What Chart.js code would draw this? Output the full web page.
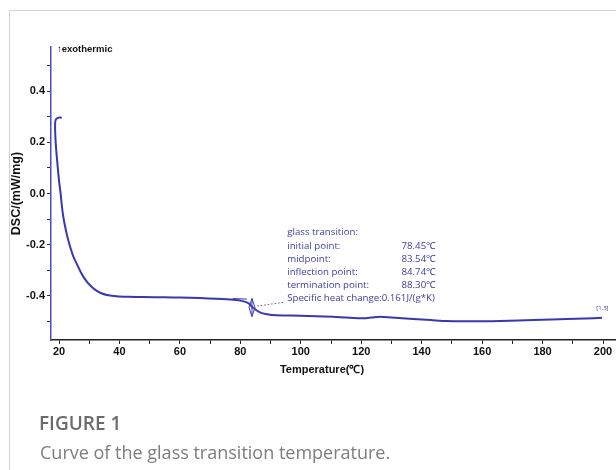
<!DOCTYPE html>
<html>
<head>
<meta charset="utf-8">
<script src="https://cdn.jsdelivr.net/npm/chart.js@4.4.0/dist/chart.umd.min.js"></script>
<style>
  html, body { margin: 0; padding: 0; background: #fff; }
  #page { position: relative; width: 616px; height: 470px; overflow: hidden; }
  .card { position: absolute; left: 9px; top: 10px; width: 620px; height: 470px;
          border-left: 1px solid #d2d2d2; border-top: 1px solid #d2d2d2; }
  #wrap { position: absolute; left: 0; top: 0; width: 616px; height: 470px; }
  .fig-num { position: absolute; left: 39px; top: 414px; font: 600 19px/1 "Open Sans"; color: #6b6b6b; white-space: nowrap; }
  .fig-cap { position: absolute; left: 40px; top: 443px; font: 18px/1 "Open Sans"; color: #7d7d7d; white-space: nowrap; }
</style>
</head>
<body>
<div id="page">
  <div class="card"></div>
  <div id="wrap"><canvas id="dscChart" width="616" height="470"></canvas></div>
  <div class="fig-num">FIGURE 1</div>
  <div class="fig-cap">Curve of the glass transition temperature.</div>
</div>
<script>
// DSC heating curve (temperature in °C, heat flow in mW/mg)
const tempC = [20.9, 20.2, 19.5, 19.0, 18.75, 18.7, 18.75, 18.9, 19.2, 19.6, 20.0, 20.5, 20.9, 21.4,
  22.1, 22.9, 23.8, 24.8, 26.0, 27.3, 28.7, 30.2, 31.9, 34.0, 36.3, 39.0, 42.9, 48, 55, 60, 66.7,
  72, 77.6, 80.5, 82.5, 84.2, 86.5, 88.8, 92, 99.8, 105, 110.7, 115, 120.7, 123.5, 126.3, 130,
  137.2, 143, 148.4, 155, 160, 166, 172, 177, 183, 188, 194, 199.7];
const dscVal = [0.296, 0.297, 0.295, 0.29, 0.28, 0.26, 0.235, 0.2, 0.153, 0.1, 0.05, 0.003, -0.043, -0.09,
  -0.134, -0.175, -0.213, -0.248, -0.278, -0.31, -0.337, -0.358, -0.376, -0.39, -0.398, -0.402, -0.404, -0.405, -0.406, -0.407, -0.409,
  -0.412, -0.416, -0.42, -0.428, -0.447, -0.465, -0.472, -0.476, -0.478, -0.48, -0.482, -0.485, -0.488, -0.485, -0.482, -0.485,
  -0.491, -0.495, -0.499, -0.5, -0.5, -0.499, -0.497, -0.495, -0.493, -0.491, -0.489, -0.486];

// glass transition evaluation
const tgNames = ['initial point:', 'midpoint:', 'inflection point:', 'termination point:'];
const tgTemps = [78.45, 83.54, 84.74, 88.30];
const cpChange = 0.161;

const xLabelStep = 20;   // labelled every 20 °C, minor ticks every 10
const yLabelStep = 0.2;  // labelled every 0.2, minor ticks every 0.1

const lineBlue = '#3838b0';
const textBlue = '#3d3da6';

const tgAnnotations = {
  id: 'tgAnnotations',
  afterDatasetsDraw(chart) {
    const { ctx, scales: { x, y }, chartArea } = chart;
    ctx.save();

    // baseline tangent before the step
    ctx.strokeStyle = lineBlue;
    ctx.lineWidth = 1;
    ctx.beginPath();
    ctx.moveTo(x.getPixelForValue(77.5), y.getPixelForValue(-0.411));
    ctx.lineTo(x.getPixelForValue(82.2), y.getPixelForValue(-0.413));
    ctx.stroke();

    // midpoint marker
    const mx = x.getPixelForValue(tgTemps[1] + 0.3);
    const my = y.getPixelForValue(-0.446);
    ctx.beginPath();
    ctx.moveTo(mx, my - 9); ctx.lineTo(mx + 3, my); ctx.lineTo(mx, my + 9); ctx.lineTo(mx - 3, my); ctx.closePath();
    ctx.moveTo(mx, my - 9); ctx.lineTo(mx, my + 9);
    ctx.stroke();

    // dotted leader to the result block
    ctx.setLineDash([1.5, 2]);
    ctx.strokeStyle = '#5a5a9a';
    ctx.beginPath();
    ctx.moveTo(x.getPixelForValue(85.6), y.getPixelForValue(-0.44));
    ctx.lineTo(x.getPixelForValue(94.2), y.getPixelForValue(-0.426));
    ctx.stroke();
    ctx.setLineDash([]);

    // result block
    const tx = x.getPixelForValue(95.5);
    const vx = x.getPixelForValue(144.8);
    const ty = y.getPixelForValue(-0.153);
    const lh = 13.2;
    ctx.fillStyle = textBlue;
    ctx.font = '9.7px "Open Sans"';
    ctx.textBaseline = 'middle';
    ctx.textAlign = 'left';
    ctx.fillText('glass transition:', tx, ty);
    tgNames.forEach((n, i) => {
      ctx.textAlign = 'left';
      ctx.fillText(n, tx, ty + lh * (i + 1));
      ctx.textAlign = 'right';
      ctx.fillText(tgTemps[i].toFixed(2) + '\u2103', vx, ty + lh * (i + 1));
    });
    ctx.textAlign = 'left';
    ctx.fillText('Specific heat change:' + cpChange.toFixed(3) + 'J/(g*K)', tx, ty + lh * 5);

    // curve id
    ctx.font = '6px "Open Sans"';
    ctx.textAlign = 'center';
    ctx.fillText('[1.3]', x.getPixelForValue(199.8), y.getPixelForValue(-0.448));

    // exothermic direction
    ctx.fillStyle = '#111';
    ctx.font = 'bold 9.5px "Liberation Sans"';
    ctx.textAlign = 'left';
    ctx.fillText('\u2191exothermic', chartArea.left + 6, chartArea.top + 2);

    // x axis title
    ctx.font = 'bold 11px "Liberation Sans"';
    ctx.textAlign = 'center';
    ctx.fillText('Temperature(\u2103)', 322, 370);
    ctx.restore();
  }
};

const axisFont = { family: '"Liberation Sans"', size: 11, weight: 'bold' };

new Chart(document.getElementById('dscChart'), {
  type: 'scatter',
  data: {
    datasets: [{
      data: tempC.map((t, i) => ({ x: t, y: dscVal[i] })),
      showLine: true,
      borderColor: lineBlue,
      borderWidth: 2,
      pointRadius: 0,
      tension: 0.25
    }]
  },
  options: {
    responsive: false,
    animation: false,
    layout: { padding: { top: 47, left: 0, right: 0, bottom: 0 } },
    plugins: { legend: { display: false }, tooltip: { enabled: false } },
    scales: {
      x: {
        type: 'linear',
        min: 17.35,
        max: 204.3,
        afterFit: s => { s.height = 130; },
        border: { color: '#222', width: 1.5 },
        grid: { drawOnChartArea: false, tickLength: 4, color: '#222' },
        ticks: {
          stepSize: 10,
          includeBounds: false,
          padding: 1,
          color: '#111',
          font: axisFont,
          maxRotation: 0,
          autoSkip: false,
          callback: v => (Math.round(v) % xLabelStep === 0 ? String(Math.round(v)) : '')
        }
      },
      y: {
        min: -0.573,
        max: 0.573,
        afterFit: s => { s.width = 51; },
        border: { color: '#4b4bc4', width: 1.5 },
        grid: { drawOnChartArea: false, tickLength: 4, color: '#333' },
        ticks: {
          stepSize: 0.1,
          includeBounds: false,
          padding: 2,
          color: '#111',
          font: axisFont,
          autoSkip: false,
          callback: v => {
            const k = Math.round(v * 10);
            return k % Math.round(yLabelStep * 10) === 0 ? (k / 10).toFixed(1) : '';
          }
        },
        title: {
          display: true,
          text: 'DSC/(mW/mg)',
          color: '#111',
          font: { family: '"Liberation Sans"', size: 12.5, weight: 'bold' },
          padding: { top: 9.5, bottom: 0 }
        }
      }
    }
  },
  plugins: [tgAnnotations]
});
</script>
</body>
</html>
